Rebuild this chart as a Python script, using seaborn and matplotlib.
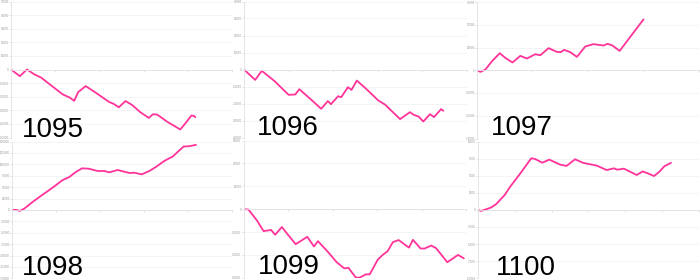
import matplotlib
matplotlib.use("Agg")
import matplotlib.pyplot as plt
from matplotlib import font_manager
import seaborn as sns
import pandas as pd

# ---------------- data ----------------
labels = ["1095", "1096", "1097", "1098", "1099", "1100"]

x_1095 = [0, 2, 3.6, 5.3, 6.8, 9, 11.7, 13.2, 14.3, 15.2, 16.9, 19.2, 22.2, 23.3, 24.4,
          25.9, 27.4, 29.3, 31.2, 32.1, 33.1, 35.3, 37.2, 38.3, 39.6, 40.8, 41.4, 41.7]
y_1095 = [0, -4900, 0, -3600, -5900, -11500, -18300, -20500, -23000, -16600, -12200,
          -17100, -23900, -25400, -27800, -23200, -26100, -31500, -35600, -32900, -33200,
          -38300, -42000, -44100, -39000, -33900, -34100, -35100]

x_1096 = [0, 2.5, 4, 6.8, 10, 11.5, 12.4, 14.7, 17.3, 18.8, 19.5, 21.1, 21.8, 23.3, 24.1,
          25.3, 27.4, 30.1, 31.6, 35, 37.2, 38.1, 39.2, 40.2, 41.7, 42.6, 44.2, 44.7]
y_1096 = [0, -6100, -800, -6700, -14900, -14700, -11600, -16900, -23100, -18600, -20400,
          -15700, -16300, -10400, -12000, -6500, -11400, -18200, -20600, -29200, -25100,
          -26700, -27800, -30600, -26300, -28000, -23300, -24300]

x_1097 = [0, 0.6, 1.5, 2.7, 4.1, 5.1, 6.4, 7.8, 9, 10.5, 11.4, 12.9, 14.4, 15.1, 15.7,
          16.8, 18, 19.5, 21, 22.8, 23.5, 24.3, 25.7, 26.9, 30]
y_1097 = [0, -1800, 700, 9900, 18700, 13600, 8500, 15800, 12900, 17600, 16500, 24300,
          20200, 19900, 22400, 19900, 14700, 26100, 28700, 27200, 29000, 27600, 21300,
          30900, 55900]

x_1098 = [0, 0.9, 1.8, 2.8, 4.7, 6.6, 9.2, 11.5, 13, 14.5, 15.9, 17.4, 19.5, 21, 22.1,
          24, 26.7, 27.8, 29.5, 31.2, 32.7, 34.6, 36.5, 39, 40.3, 41.8]
y_1098 = [0, 0, -2200, 2900, 17600, 30900, 48500, 65400, 72000, 83000, 91100, 90400,
          85300, 85300, 82300, 87500, 80900, 81600, 77900, 85300, 94100, 107300, 116900,
          138900, 139700, 142600]

x_1099 = [0, 1.1, 3, 4.5, 6.2, 7.1, 8.6, 10.1, 11.7, 14.3, 15.8, 16.7, 18.8, 20.9, 22.6,
          23.5, 25.2, 26.1, 27.4, 28.3, 30.1, 31.2, 32.3, 33.5, 34.8, 36.1, 37.1, 38,
          39.7, 40.6, 42.1, 43.2, 45.7, 48.1, 49.4]
y_1099 = [0, -150, -4900, -9600, -9100, -11200, -7800, -11500, -15300, -12100, -16300,
          -14000, -18400, -23200, -25900, -25600, -29900, -29900, -28500, -28500, -22100,
          -20000, -18400, -14400, -13500, -15400, -16800, -13400, -17200, -17200, -15900,
          -17100, -23200, -20000, -21500]

x_1100 = [0, 0.9, 3.6, 5, 7.3, 8.6, 11.4, 14.5, 15.5, 17.5, 19.4, 22.3, 24.1, 26.4, 28.6,
          32.3, 35, 37, 37.9, 39.7, 43.2, 44.8, 46.4, 47.9, 49.4, 50.7, 52.5]
y_1100 = [0, -150, 350, 880, 2200, 3280, 5250, 7550, 7450, 6900, 7350, 6630, 6430, 7400,
          6880, 6480, 5830, 6080, 5880, 6030, 5100, 5630, 5300, 4950, 5600, 6380, 6880]

y_ticks = {
    "1095": [-50000, -40000, -30000, -20000, -10000, 0, 10000, 20000, 30000, 40000, 50000],
    "1096": [-40000, -30000, -20000, -10000, 0, 10000, 20000, 30000, 40000],
    "1097": [-75000, -50000, -25000, 0, 25000, 50000, 75000],
    "1098": [-150000, -125000, -100000, -75000, -50000, -25000, 0, 25000, 50000, 75000,
             100000, 125000, 150000],
    "1099": [-30000, -20000, -10000, 0, 10000, 20000, 30000],
    "1100": [-10000, -7500, -5000, -2500, 0, 2500, 5000, 7500, 10000],
}
x_ticks = {
    "1095": [0, 10, 20, 30, 40, 50],
    "1096": [0, 10, 20, 30, 40, 50],
    "1097": [0, 10, 20, 30, 40],
    "1098": [0, 10, 20, 30, 40, 50],
    "1099": [0, 10, 20, 30, 40, 50],
    "1100": [0, 10, 20, 30, 40, 50, 60],
}
series = {
    "1095": (x_1095, y_1095), "1096": (x_1096, y_1096), "1097": (x_1097, y_1097),
    "1098": (x_1098, y_1098), "1099": (x_1099, y_1099), "1100": (x_1100, y_1100),
}

# ---------------- layout ----------------
sns.set_theme(style="white")
W, H = 700, 280
fig = plt.figure(figsize=(7, 2.8), dpi=100)

names = {f.name for f in font_manager.fontManager.ttflist}
narrow = "Liberation Sans Narrow" in names
big_font = "Liberation Sans Narrow" if narrow else "Liberation Sans"

# axes boxes in pixels: (left, right, top, bottom)
boxes = {
    "1095": (11, 232, 1.5, 137.5),
    "1096": (244, 467, 1.5, 137.5),
    "1097": (477, 699, 2.0, 138.5),
    "1098": (12, 232, 141.5, 278.3),
    "1099": (243.5, 466.5, 140.5, 277.8),
    "1100": (478, 698.5, 141.5, 278.3),
}
# big label positions (left x, baseline y) in pixels
label_pos = {
    "1095": (22, 137), "1096": (257, 135), "1097": (491, 135),
    "1098": (22, 275), "1099": (258, 274), "1100": (496, 275),
}

color = "#FF3399"
for name in labels:
    l, r, t, b = boxes[name]
    ax = fig.add_axes([l / W, 1 - b / H, (r - l) / W, (b - t) / H])
    xs, ys = series[name]
    df = pd.DataFrame({"x": xs, "y": ys})
    sns.lineplot(data=df, x="x", y="y", ax=ax, color=color, lw=1.3, sort=False)
    yt = y_ticks[name]
    xt = x_ticks[name]
    ax.set_ylim(yt[0], yt[-1])
    ax.set_xlim(xt[0], xt[-1])
    ax.set_yticks(yt)
    ax.set_yticklabels([str(v) for v in yt], family=[big_font, "DejaVu Sans"])
    ax.set_xticks(xt)
    ax.set_xticklabels([])
    ax.set_xlabel("")
    ax.set_ylabel("")
    ax.patch.set_alpha(0)
    ax.grid(axis="y", color="#f2f2f2", lw=0.6)
    ax.grid(axis="x", visible=False)
    for s in ("top", "right"):
        ax.spines[s].set_visible(False)
    ax.spines["left"].set_color("#e0e0e0")
    ax.spines["left"].set_linewidth(0.6)
    ax.spines["bottom"].set_position(("data", 0))
    ax.spines["bottom"].set_color("#e0e0e0")
    ax.spines["bottom"].set_linewidth(0.6)
    ax.tick_params(axis="y", labelsize=2.2, labelcolor="#9a9a9a", length=1.2,
                   width=0.4, color="#cccccc", pad=0.3, left=True)
    ax.tick_params(axis="x", length=1.5, width=0.4, color="#cccccc", bottom=True)
    lx, ly = label_pos[name]
    fig.text(lx / W, 1 - ly / H, name, fontsize=20, family=[big_font, "DejaVu Sans"],
             color="black", ha="left", va="baseline", zorder=10)

fig.savefig("out.png", dpi=100)
